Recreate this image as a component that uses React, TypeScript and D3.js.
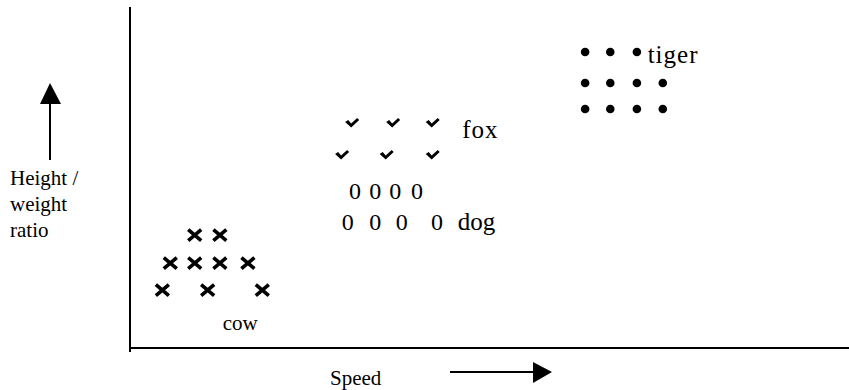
import React from "react";
import * as d3 from "d3";

// speed / ratio positions of every symbol, in chart units (0..10)
const cowSpeed = [0.9, 1.25, 0.56, 0.9, 1.25, 1.64, 0.45, 1.08, 1.84];
const cowRatio = [3.31, 3.31, 2.49, 2.49, 2.49, 2.49, 1.7, 1.7, 1.7];

const foxSpeed = [3.09, 3.66, 4.21, 2.95, 3.57, 4.21];
const foxRatio = [6.6, 6.6, 6.6, 5.66, 5.66, 5.66];

const dogSpeed = [3.13, 3.41, 3.69, 3.99, 3.03, 3.41, 3.78, 4.27];
const dogRatio = [4.63, 4.63, 4.63, 4.63, 3.7, 3.7, 3.7, 3.7];

const tigerSpeed = [6.33, 6.68, 7.05, 6.33, 6.68, 7.05, 7.41, 6.33, 6.68, 7.05, 7.41];
const tigerRatio = [8.68, 8.68, 8.68, 7.77, 7.77, 7.77, 7.77, 7.01, 7.01, 7.01, 7.01];

const labels = ["cow", "fox", "dog", "tiger"];
const labelSpeed = [1.29, 4.62, 4.56, 7.2];
const labelRatio = [0.53, 6.16, 3.46, 8.36];

const yLabel = ["Height /", "weight", "ratio"];
const xLabel = "Speed";

const W = 849;
const H = 390;
const font = '"Liberation Serif", "Times New Roman", serif';

const App = () => {
  const x = d3.scaleLinear().domain([0, 10]).range([130, 849]);
  const y = d3.scaleLinear().domain([0, 10]).range([348, 7]);

  const pts = (sx: number[], sy: number[]) => sx.map((v, i) => [x(v), y(sy[i])]);

  const check = "M-7,-1 L-4,-3 L-1,0.5 L5,-5 L7,-3 L-1,4.5 Z";

  return (
    <svg
      width={W}
      height={H}
      style={{ position: "absolute", left: 0, top: 0, background: "#fff", fontFamily: font }}
    >
      {/* axes */}
      <line x1={x(0)} x2={x(0)} y1={7} y2={352} stroke="#000" strokeWidth={2} />
      <line x1={x(0)} x2={W} y1={y(0)} y2={y(0)} stroke="#000" strokeWidth={2} />

      {/* cow crosses */}
      {pts(cowSpeed, cowRatio).map(([cx, cy], i) => (
        <path
          key={"c" + i}
          d="M-6.5,-5.5 L6.5,5.5 M-6.5,5.5 L6.5,-5.5"
          transform={`translate(${cx},${cy})`}
          stroke="#000"
          strokeWidth={3.6}
          fill="none"
        />
      ))}

      {/* fox checks */}
      {pts(foxSpeed, foxRatio).map(([cx, cy], i) => (
        <path key={"f" + i} d={check} transform={`translate(${cx},${cy})`} fill="#000" />
      ))}

      {/* dog zeros */}
      {pts(dogSpeed, dogRatio).map(([cx, cy], i) => (
        <text key={"d" + i} x={cx} y={cy} dy="0.35em" textAnchor="middle" fontSize={24}>
          0
        </text>
      ))}

      {/* tiger dots */}
      {pts(tigerSpeed, tigerRatio).map(([cx, cy], i) => (
        <circle key={"t" + i} cx={cx} cy={cy} r={4.3} fill="#000" />
      ))}

      {labels.map((l, i) => (
        <text
          key={l}
          x={x(labelSpeed[i])}
          y={y(labelRatio[i])}
          fontSize={i === 0 ? 21 : 25}
          letterSpacing={i === 1 || i === 3 ? 1 : 0}
        >
          {l}
        </text>
      ))}

      {/* y label + arrow */}
      <line x1={50} x2={50} y1={100} y2={160} stroke="#000" strokeWidth={2} />
      <path d="M50,83 L40,104 L61,104 Z" fill="#000" />
      {yLabel.map((t, i) => (
        <text key={t} x={10} y={185 + i * 26} fontSize={21}>
          {t}
        </text>
      ))}

      {/* x label + arrow */}
      <text x={330} y={385} fontSize={21}>
        {xLabel}
      </text>
      <line x1={450} x2={536} y1={372} y2={372} stroke="#000" strokeWidth={2} />
      <path d="M552,372 L533,362 L533,383 Z" fill="#000" />
    </svg>
  );
};

export default App;
